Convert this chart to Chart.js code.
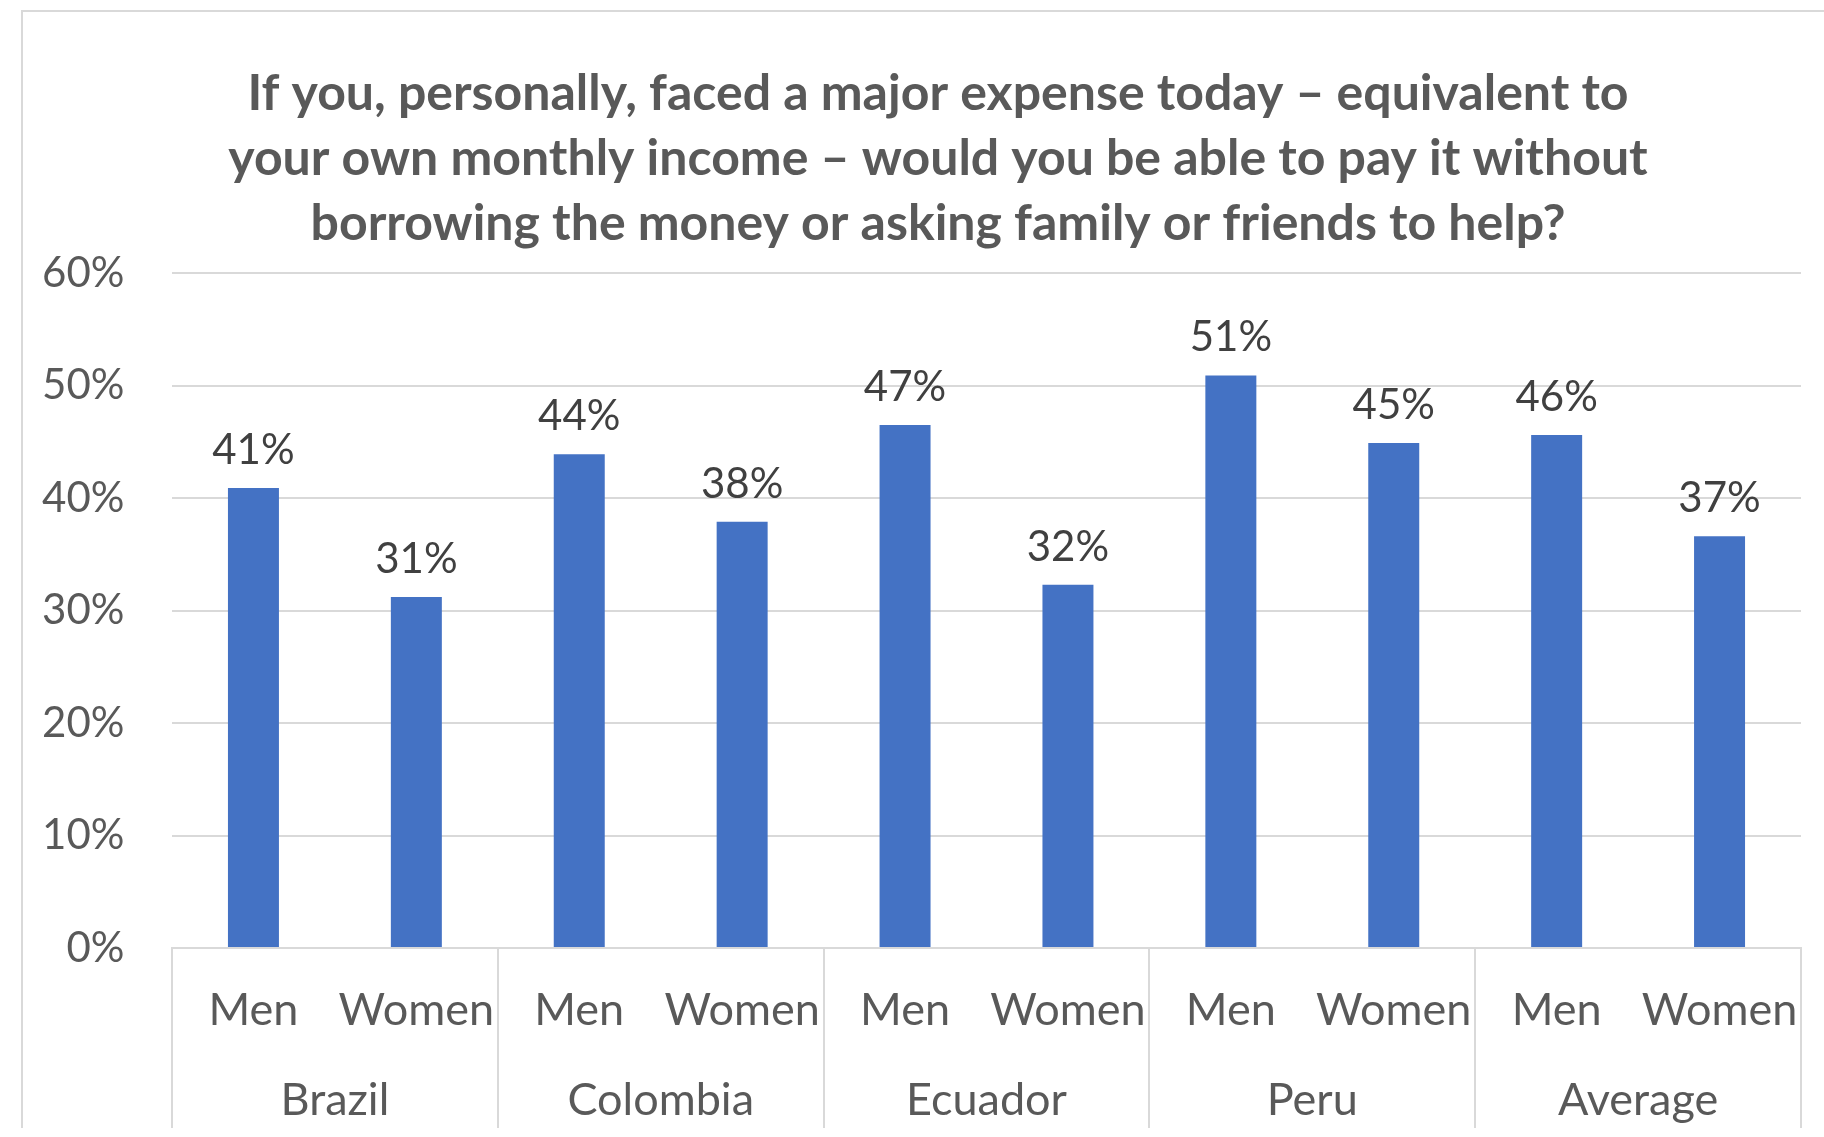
<!DOCTYPE html>
<html lang="en">
<head>
<meta charset="utf-8">
<title>Major expense without borrowing</title>
<script src="https://cdn.jsdelivr.net/npm/chart.js"></script>
<style>
    html, body { margin: 0; padding: 0; background: #fff; overflow: hidden; }
    #frame {
        position: absolute;
        left: 21px;
        top: 10px;
        border-left: 2px solid #d9d9d9;
        border-top: 2px solid #d9d9d9;
    }
    canvas { display: block; }
</style>
</head>
<body>
<div id="frame"><canvas id="expenseChart" width="1830" height="1116"></canvas></div>
<script>
"use strict";

const titleLines = [
    "If you, personally, faced a major expense today \u2013 equivalent to",
    "your own monthly income \u2013 would you be able to pay it without",
    "borrowing the money or asking family or friends to help?"
];
const countries = ["Brazil", "Colombia", "Ecuador", "Peru", "Average"];
const genders = ["Men", "Women"];
// % who could pay, per country
const menValues = [40.9, 43.9, 46.5, 50.9, 45.6];
const womenValues = [31.2, 37.9, 32.3, 44.9, 36.6];
const yTicks = [0, 10, 20, 30, 40, 50, 60];

const FONT = "Lato, 'Open Sans', sans-serif";
const GRID = "#d9d9d9";

// one bar per gender inside each country
const labels = [];
const values = [];
countries.forEach((c, i) => {
    labels.push(genders[0], genders[1]);
    values.push(menValues[i], womenValues[i]);
});

// percentage written above each bar
const valueLabels = {
    id: "valueLabels",
    afterDatasetsDraw(chart) {
        const ctx = chart.ctx;
        const meta = chart.getDatasetMeta(0);
        const data = chart.data.datasets[0].data;
        ctx.save();
        ctx.font = "42px " + FONT;
        ctx.fillStyle = "#404040";
        ctx.textAlign = "center";
        ctx.textBaseline = "alphabetic";
        meta.data.forEach((bar, i) => {
            ctx.fillText(Math.round(data[i]) + "%", bar.x, bar.y - 24);
        });
        ctx.restore();
    }
};

const chart = new Chart(document.getElementById("expenseChart"), {
    type: "bar",
    data: {
        labels: labels,
        datasets: [{
            data: values,
            backgroundColor: "#4472c4",
            barPercentage: 0.313,
            categoryPercentage: 1
        }]
    },
    options: {
        responsive: false,
        animation: false,
        layout: { padding: 0 },
        plugins: {
            legend: { display: false },
            tooltip: { enabled: false },
            title: {
                display: true,
                text: titleLines,
                color: "#595959",
                font: { family: FONT, size: 50, weight: "bold", lineHeight: 65 / 50 },
                padding: { top: 49, bottom: 17 }
            }
        },
        scales: {
            x: {
                weight: 0,
                offset: true,
                grid: {
                    offset: true,
                    drawOnChartArea: false,
                    drawTicks: true,
                    tickLength: 110,
                    lineWidth: 2,
                    // keep only the lines between countries (the closing line has no tick)
                    color: (ctx) => (ctx.type !== "tick" || ctx.index % 2 === 0) ? GRID : "transparent"
                },
                border: { color: GRID, width: 2 },
                ticks: {
                    color: "#595959",
                    font: { family: FONT, size: 45 },
                    padding: -75,
                    autoSkip: false,
                    maxRotation: 0
                },
                afterFit: (s) => { s.height = 110; }
            },
            x2: {
                type: "category",
                position: "bottom",
                weight: 1,
                labels: countries,
                offset: true,
                grid: {
                    offset: true,
                    drawOnChartArea: false,
                    drawTicks: true,
                    tickLength: 70,
                    lineWidth: 2,
                    color: GRID
                },
                border: { display: false },
                ticks: {
                    color: "#595959",
                    font: { family: FONT, size: 45 },
                    padding: -54.5,
                    autoSkip: false,
                    maxRotation: 0
                },
                afterFit: (s) => { s.height = 70; }
            },
            y: {
                min: 0,
                max: 60,
                afterBuildTicks: (s) => { s.ticks = yTicks.map(v => ({ value: v })); },
                grid: { color: GRID, lineWidth: 2, drawTicks: false },
                border: { display: false },
                ticks: {
                    color: "#595959",
                    font: { family: FONT, size: 42 },
                    padding: 47.5,
                    callback: (v) => v + "%"
                },
                afterFit: (s) => { s.width = 149; }
            },
            // empty right margin so the title stays centred on the whole frame
            yRight: {
                position: "right",
                grid: { display: false },
                border: { display: false },
                ticks: { display: false },
                afterFit: (s) => { s.width = 52; }
            }
        }
    },
    plugins: [valueLabels]
});
</script>
</body>
</html>
